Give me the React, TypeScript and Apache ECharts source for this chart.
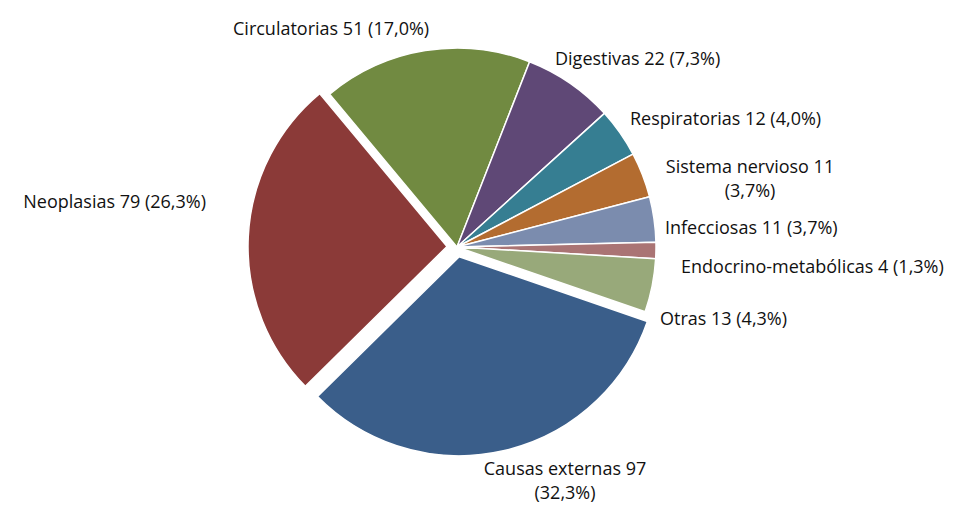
import React, { useEffect, useRef } from "react";
import * as echarts from "echarts";

// Data (clockwise order starting with Causas externas)
const categories = [
  "Causas externas",
  "Neoplasias",
  "Circulatorias",
  "Digestivas",
  "Respiratorias",
  "Sistema nervioso",
  "Infecciosas",
  "Endocrino-metabólicas",
  "Otras",
];
const values = [97, 79, 51, 22, 12, 11, 11, 4, 13];
const explodedSlices = ["Causas externas", "Neoplasias"];
const wrappedLabels = ["Causas externas", "Sistema nervioso"];

// Styles / layout (kept separate from data)
const colors = [
  "#3A5E8A",
  "#8B3A38",
  "#718A41",
  "#5F4876",
  "#367E92",
  "#B36C30",
  "#7B8CAE",
  "#AA7474",
  "#98A97A",
];
const CENTER: [number, number] = [457, 247];
const RADIUS = 199;
const START_ANGLE = -19;
const EXPLODE = 10;
// label anchor [x, y, align]
const labelPos: [number, number, string][] = [
  [565, 480, "center"],
  [206, 201, "right"],
  [233, 28, "left"],
  [555, 58, "left"],
  [630, 118, "left"],
  [750, 178, "center"],
  [665, 227, "left"],
  [681, 266, "left"],
  [660, 318, "left"],
];

export default function App() {
  const ref = useRef<HTMLDivElement>(null);
  useEffect(() => {
    if (!ref.current) return;
    const chart = echarts.init(ref.current, null, { renderer: "svg" });
    const total = values.reduce((a, b) => a + b, 0);
    const border = { borderColor: "#ffffff", borderWidth: 1.5 };

    const mainData = categories.map((name, i) => ({
      name,
      value: values[i],
      itemStyle: explodedSlices.includes(name)
        ? { color: "rgba(0,0,0,0)", borderWidth: 0 }
        : { color: colors[i], ...border },
    }));

    const baseSeries = {
      type: "pie",
      radius: [0, RADIUS],
      startAngle: START_ANGLE,
      clockwise: true,
      avoidLabelOverlap: false,
      emphasis: { disabled: true },
      labelLine: { show: false },
    };

    const explodedSeries = explodedSlices.map((ename) => {
      const idx = categories.indexOf(ename);
      let before = 0;
      for (let k = 0; k < idx; k++) before += values[k];
      const midDeg = START_ANGLE - ((before + values[idx] / 2) / total) * 360;
      const rad = (midDeg * Math.PI) / 180;
      const cx = CENTER[0] + EXPLODE * Math.cos(rad);
      const cy = CENTER[1] - EXPLODE * Math.sin(rad);
      return {
        ...baseSeries,
        center: [cx, cy],
        silent: true,
        label: { show: false },
        data: categories.map((name, i) => ({
          name,
          value: values[i],
          itemStyle:
            name === ename
              ? { color: colors[i], ...border }
              : { color: "rgba(0,0,0,0)", borderWidth: 0 },
        })),
      };
    });

    chart.setOption({
      animation: false,
      backgroundColor: "#ffffff",
      series: [
        ...explodedSeries,
        {
          ...baseSeries,
          center: CENTER,
          label: {
            show: true,
            position: "outside",
            color: "#111111",
            fontFamily: "Open Sans",
            fontSize: 18,
            lineHeight: 24,
            formatter: (p: any) => {
              const pct = ((p.value / total) * 100).toFixed(1).replace(".", ",");
              const sep = wrappedLabels.includes(p.name) ? "\n" : " ";
              return `${p.name} ${p.value}${sep}(${pct}%)`;
            },
          },
          labelLayout: (params: any) => {
            const pos = labelPos[params.dataIndex];
            return {
              x: pos[0],
              y: pos[1],
              align: pos[2],
              verticalAlign: "middle",
            };
          },
          data: mainData,
        },
      ],
    });
    return () => chart.dispose();
  }, []);
  return (
    <div
      ref={ref}
      style={{ position: "fixed", left: 0, top: 0, width: 963, height: 505, background: "#fff" }}
    />
  );
}
